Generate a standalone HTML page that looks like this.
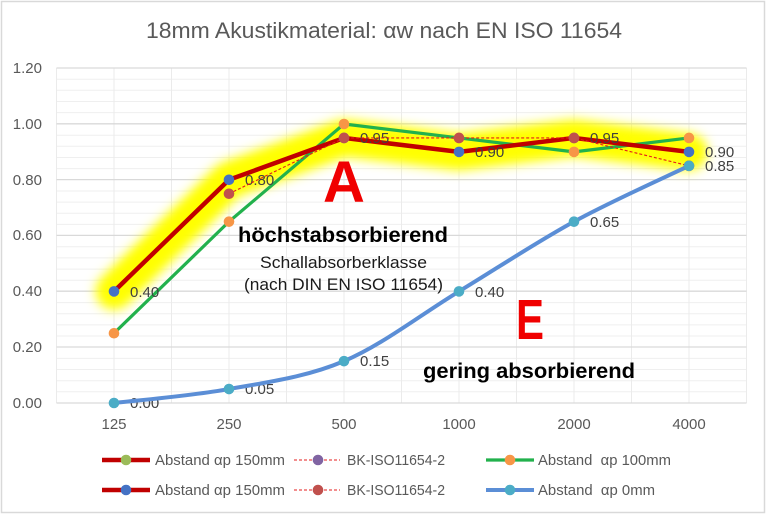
<!DOCTYPE html>
<html>
<head>
<meta charset="utf-8">
<style>
  html,body{margin:0;padding:0;background:#fff;}
  svg{display:block;}
  text{font-family:"Liberation Sans",sans-serif;}
</style>
</head>
<body>
<svg width="768" height="515" viewBox="0 0 768 515" xmlns="http://www.w3.org/2000/svg">
  <defs>
    <filter id="glow" x="-20%" y="-50%" width="140%" height="200%">
      <feGaussianBlur stdDeviation="6"/>
    </filter>
  </defs>
  <rect x="0" y="0" width="768" height="515" fill="#fff"/>
  <rect x="1.5" y="1.5" width="763" height="511" fill="none" stroke="#d9d9d9" stroke-width="1.5"/>

  <!-- Title -->
  <text x="146" y="38" font-size="22" fill="#595959" textLength="476" lengthAdjust="spacingAndGlyphs">18mm Akustikmaterial: αw nach EN ISO 11654</text>

  <!-- minor horizontal grid -->
  <g stroke="#efefef" stroke-width="1">
    <line x1="56.5" x2="746.5" y1="79.2" y2="79.2"/><line x1="56.5" x2="746.5" y1="90.3" y2="90.3"/><line x1="56.5" x2="746.5" y1="101.5" y2="101.5"/><line x1="56.5" x2="746.5" y1="112.6" y2="112.6"/>
    <line x1="56.5" x2="746.5" y1="135.2" y2="135.2"/><line x1="56.5" x2="746.5" y1="146.3" y2="146.3"/><line x1="56.5" x2="746.5" y1="157.5" y2="157.5"/><line x1="56.5" x2="746.5" y1="168.6" y2="168.6"/>
    <line x1="56.5" x2="746.5" y1="191" y2="191"/><line x1="56.5" x2="746.5" y1="202.1" y2="202.1"/><line x1="56.5" x2="746.5" y1="213.3" y2="213.3"/><line x1="56.5" x2="746.5" y1="224.4" y2="224.4"/>
    <line x1="56.5" x2="746.5" y1="246.8" y2="246.8"/><line x1="56.5" x2="746.5" y1="257.9" y2="257.9"/><line x1="56.5" x2="746.5" y1="269.1" y2="269.1"/><line x1="56.5" x2="746.5" y1="280.2" y2="280.2"/>
    <line x1="56.5" x2="746.5" y1="302.6" y2="302.6"/><line x1="56.5" x2="746.5" y1="313.7" y2="313.7"/><line x1="56.5" x2="746.5" y1="324.9" y2="324.9"/><line x1="56.5" x2="746.5" y1="336" y2="336"/>
    <line x1="56.5" x2="746.5" y1="358.4" y2="358.4"/><line x1="56.5" x2="746.5" y1="369.5" y2="369.5"/><line x1="56.5" x2="746.5" y1="380.7" y2="380.7"/><line x1="56.5" x2="746.5" y1="391.8" y2="391.8"/>
  </g>
  <!-- vertical grid -->
  <g stroke="#ebebeb" stroke-width="1">
    <line x1="56.5" x2="56.5" y1="68" y2="403"/><line x1="114" x2="114" y1="68" y2="403"/><line x1="171.5" x2="171.5" y1="68" y2="403"/>
    <line x1="229" x2="229" y1="68" y2="403"/><line x1="286.5" x2="286.5" y1="68" y2="403"/><line x1="344" x2="344" y1="68" y2="403"/>
    <line x1="401.5" x2="401.5" y1="68" y2="403"/><line x1="459" x2="459" y1="68" y2="403"/><line x1="516.5" x2="516.5" y1="68" y2="403"/>
    <line x1="574" x2="574" y1="68" y2="403"/><line x1="631.5" x2="631.5" y1="68" y2="403"/><line x1="689" x2="689" y1="68" y2="403"/>
    <line x1="746.5" x2="746.5" y1="68" y2="403"/>
  </g>
  <!-- major horizontal grid -->
  <g stroke="#d9d9d9" stroke-width="1.3">
    <line x1="56.5" x2="746.5" y1="68" y2="68"/>
    <line x1="56.5" x2="746.5" y1="123.8" y2="123.8"/>
    <line x1="56.5" x2="746.5" y1="179.6" y2="179.6"/>
    <line x1="56.5" x2="746.5" y1="235.4" y2="235.4"/>
    <line x1="56.5" x2="746.5" y1="291.2" y2="291.2"/>
    <line x1="56.5" x2="746.5" y1="347" y2="347"/>
    <line x1="56.5" x2="746.5" y1="403" y2="403"/>
  </g>

  <!-- Y labels -->
  <g font-size="15" fill="#595959" text-anchor="end">
    <text x="42" y="73">1.20</text>
    <text x="42" y="129">1.00</text>
    <text x="42" y="185">0.80</text>
    <text x="42" y="240">0.60</text>
    <text x="42" y="296">0.40</text>
    <text x="42" y="352">0.20</text>
    <text x="42" y="408">0.00</text>
  </g>
  <!-- X labels -->
  <g font-size="15" fill="#595959" text-anchor="middle">
    <text x="114" y="429">125</text>
    <text x="229" y="429">250</text>
    <text x="344" y="429">500</text>
    <text x="459" y="429">1000</text>
    <text x="574" y="429">2000</text>
    <text x="689" y="429">4000</text>
  </g>

  <!-- yellow glow -->
  <polyline points="114,291.4 229,179.8 344,137.95 459,151.9 574,137.95 689,151.9" fill="none" stroke="#ffff00" stroke-width="36" stroke-linecap="round" stroke-linejoin="round" filter="url(#glow)"/>
  <polyline points="114,291.4 229,179.8 344,137.95 459,151.9 574,137.95 689,151.9" fill="none" stroke="#ffff00" stroke-width="22" stroke-linecap="round" stroke-linejoin="round" filter="url(#glow)" opacity="0.8"/>

  <!-- annotations -->
  <text x="344" y="202" font-size="58" font-weight="bold" fill="#f00000" text-anchor="middle">A</text>
  <text x="238" y="242" font-size="21.5" font-weight="bold" fill="#000" textLength="210" lengthAdjust="spacingAndGlyphs">höchstabsorbierend</text>
  <text x="260" y="268" font-size="17" fill="#1a1a1a" textLength="167" lengthAdjust="spacingAndGlyphs">Schallabsorberklasse</text>
  <text x="244" y="290" font-size="17" fill="#1a1a1a" textLength="199" lengthAdjust="spacingAndGlyphs">(nach DIN EN ISO 11654)</text>
  <text x="516" y="339" font-size="57" font-weight="bold" fill="#f00000" textLength="28" lengthAdjust="spacingAndGlyphs">E</text>
  <text x="423" y="378" font-size="21.5" font-weight="bold" fill="#000" textLength="212" lengthAdjust="spacingAndGlyphs">gering absorbierend</text>

  <!-- green series -->
  <polyline points="114,333.25 229,221.65 344,124 459,137.95 574,151.9 689,137.95" fill="none" stroke="#22b14c" stroke-width="3.2" stroke-linejoin="round"/>
  <!-- red series -->
  <polyline points="114,291.4 229,179.8 344,137.95 459,151.9 574,137.95 689,151.9" fill="none" stroke="#c00000" stroke-width="4.5" stroke-linejoin="round"/>

  <!-- data labels -->
  <g font-size="15" fill="#404040">
    <text x="130" y="297">0.40</text>
    <text x="245" y="185">0.80</text>
    <text x="360" y="143">0.95</text>
    <text x="475" y="157">0.90</text>
    <text x="590" y="143">0.95</text>
    <text x="705" y="157">0.90</text>
    <text x="130" y="408">0.00</text>
    <text x="245" y="394">0.05</text>
    <text x="360" y="366">0.15</text>
    <text x="475" y="297">0.40</text>
    <text x="590" y="227">0.65</text>
    <text x="705" y="171">0.85</text>
  </g>

  <!-- dashed BK series -->
  <polyline points="229,193.75 344,137.95 459,137.95 574,137.95 689,165.85" fill="none" stroke="#e41c1c" stroke-width="1.1" stroke-dasharray="3,2"/>

  <!-- blue smooth series -->
  <path d="M114,403 C133.2,400.7 190.7,396 229,389.05 C267.3,382.1 305.7,377.4 344,361.15 C382.3,344.9 420.7,314.65 459,291.4 C497.3,268.15 535.7,242.6 574,221.65 C612.3,200.7 669.8,175.15 689,165.85" fill="none" stroke="#5b8ed6" stroke-width="4"/>

  <!-- markers -->
  <g fill="#f79646">
    <circle cx="114" cy="333.25" r="5.3"/><circle cx="229" cy="221.65" r="5.3"/><circle cx="344" cy="124" r="5.3"/>
    <circle cx="459" cy="137.95" r="5.3"/><circle cx="574" cy="151.9" r="5.3"/><circle cx="689" cy="137.95" r="5.3"/>
  </g>
  <g fill="#4472c4">
    <circle cx="114" cy="291.4" r="5.3"/><circle cx="229" cy="179.8" r="5.3"/><circle cx="344" cy="137.95" r="5.3"/>
    <circle cx="459" cy="151.9" r="5.3"/><circle cx="574" cy="137.95" r="5.3"/><circle cx="689" cy="151.9" r="5.3"/>
  </g>
  <g fill="#c0504d">
    <circle cx="229" cy="193.75" r="5.3"/><circle cx="344" cy="137.95" r="5.3"/><circle cx="459" cy="137.95" r="5.3"/>
    <circle cx="574" cy="137.95" r="5.3"/><circle cx="689" cy="165.85" r="5.3"/>
  </g>
  <g fill="#4bacc6">
    <circle cx="114" cy="403" r="5.3"/><circle cx="229" cy="389.05" r="5.3"/><circle cx="344" cy="361.15" r="5.3"/>
    <circle cx="459" cy="291.4" r="5.3"/><circle cx="574" cy="221.65" r="5.3"/><circle cx="689" cy="165.85" r="5.3"/>
  </g>

  <!-- Legend -->
  <g>
    <line x1="102" x2="150" y1="460" y2="460" stroke="#c00000" stroke-width="4.5"/>
    <circle cx="126" cy="460" r="5.3" fill="#9bbb59"/>
    <line x1="294" x2="340" y1="460" y2="460" stroke="#e41c1c" stroke-width="1.1" stroke-dasharray="3,2"/>
    <circle cx="318" cy="460" r="5.3" fill="#8064a2"/>
    <line x1="486" x2="534" y1="460" y2="460" stroke="#22b14c" stroke-width="3.2"/>
    <circle cx="510" cy="460" r="5.3" fill="#f79646"/>

    <line x1="102" x2="150" y1="490" y2="490" stroke="#c00000" stroke-width="4.5"/>
    <circle cx="126" cy="490" r="5.3" fill="#4472c4"/>
    <line x1="294" x2="340" y1="490" y2="490" stroke="#e41c1c" stroke-width="1.1" stroke-dasharray="3,2"/>
    <circle cx="318" cy="490" r="5.3" fill="#c0504d"/>
    <line x1="486" x2="534" y1="490" y2="490" stroke="#5b8ed6" stroke-width="4"/>
    <circle cx="510" cy="490" r="5.3" fill="#4bacc6"/>
  </g>
  <g font-size="15" fill="#595959">
    <text x="155" y="465" textLength="130" lengthAdjust="spacingAndGlyphs">Abstand αp 150mm</text>
    <text x="347" y="465" textLength="98" lengthAdjust="spacingAndGlyphs">BK-ISO11654-2</text>
    <text x="538" y="465" textLength="133" lengthAdjust="spacingAndGlyphs" xml:space="preserve">Abstand  αp 100mm</text>
    <text x="155" y="495" textLength="130" lengthAdjust="spacingAndGlyphs">Abstand αp 150mm</text>
    <text x="347" y="495" textLength="98" lengthAdjust="spacingAndGlyphs">BK-ISO11654-2</text>
    <text x="538" y="495" textLength="117" lengthAdjust="spacingAndGlyphs" xml:space="preserve">Abstand  αp 0mm</text>
  </g>
</svg>
</body>
</html>
